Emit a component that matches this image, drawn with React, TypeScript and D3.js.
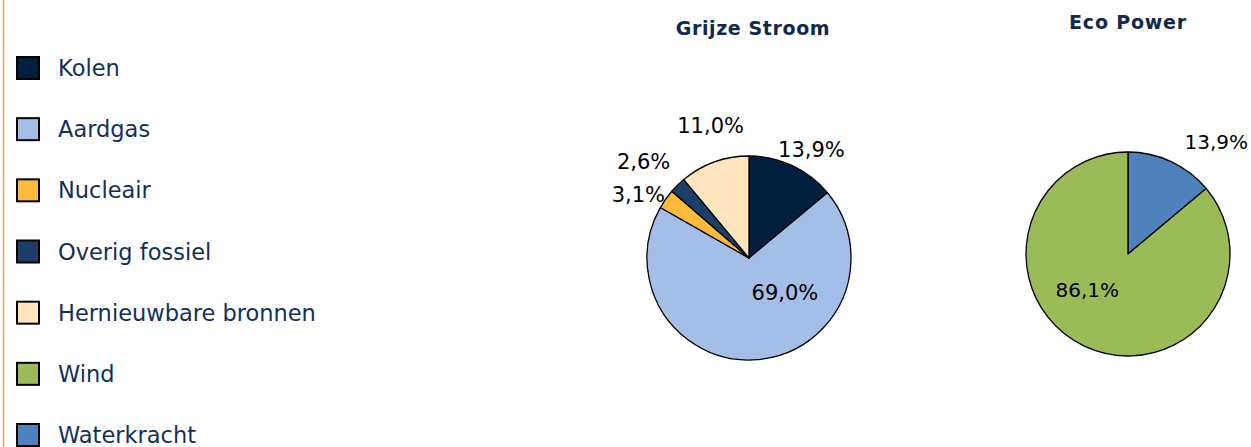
import React from "react";
import * as d3 from "d3";

const categories = ["Kolen", "Aardgas", "Nucleair", "Overig fossiel", "Hernieuwbare bronnen", "Wind", "Waterkracht"];
const colors = ["#01203f", "#a3bfe8", "#fdba3b", "#1b3f68", "#fde6bd", "#9bbb59", "#4f81bd"];

const grijzeCats = ["Kolen", "Aardgas", "Nucleair", "Overig fossiel", "Hernieuwbare bronnen"];
const grijzeValues = [13.9, 69.0, 3.1, 2.6, 11.0];
const ecoCats = ["Waterkracht", "Wind"];
const ecoValues = [13.9, 86.1];

// layout (not data): label offsets from computed centroid
const grijzeLabelLayout = [
  { r: 1.28, dx: 7, dy: 10 },
  { r: 0.55, dx: 31, dy: -21 },
  { r: 1.28, dx: -4, dy: 12 },
  { r: 1.28, dx: -14, dy: -3 },
  { r: 1.28, dx: 6, dy: -10 },
];
const ecoLabelLayout = [
  { r: 1.28, dx: 33, dy: 6 },
  { r: 0.55, dx: -17, dy: -15 },
];

const W = 1251;
const H = 447;
const R = 102;
const FONT = "'DejaVu Sans', Verdana, sans-serif";
const NAVY = "#12305a";

const fmt = (v: number) => v.toFixed(1).replace(".", ",") + "%";

function Pie({ cx, cy, cats, values, layout, fontSize }: any) {
  const pie = d3.pie<number>().sort(null).value((d) => d);
  const arcs = pie(values);
  const arc = d3.arc<d3.PieArcDatum<number>>().innerRadius(0).outerRadius(R);
  return (
    <g transform={`translate(${cx},${cy})`}>
      {arcs.map((a, i) => (
        <path
          key={i}
          d={arc(a) as string}
          fill={colors[categories.indexOf(cats[i])]}
          stroke="#000"
          strokeWidth={1.3}
          strokeLinejoin="round"
        />
      ))}
      {arcs.map((a, i) => {
        const lr = R * layout[i].r;
        const c = d3.arc<d3.PieArcDatum<number>>().innerRadius(lr).outerRadius(lr).centroid(a);
        return (
          <text
            key={"l" + i}
            x={c[0] + layout[i].dx}
            y={c[1] + layout[i].dy}
            dy="0.36em"
            textAnchor="middle"
            fontFamily={FONT}
            fontSize={fontSize}
            fill="#000"
          >
            {fmt(values[i])}
          </text>
        );
      })}
    </g>
  );
}

export default function App() {
  const legendY = d3.scalePoint<string>().domain(categories).range([68, 435]);
  return (
    <svg
      width={W}
      height={H}
      style={{ position: "absolute", left: 0, top: 0, background: "#fff" }}
    >
      <rect x={0} y={0} width={W} height={H} fill="#fff" />
      <line x1={3.5} x2={3.5} y1={0} y2={H} stroke="#f7a133" strokeWidth={1.5} />
      {categories.map((c, i) => (
        <g key={c}>
          <rect
            x={17}
            y={(legendY(c) as number) - 11}
            width={22}
            height={22}
            fill={colors[i]}
            stroke="#000"
            strokeWidth={2}
          />
          <text
            x={58}
            y={legendY(c) as number}
            dy="0.36em"
            fontFamily={FONT}
            fontSize={22.5}
            fill={NAVY}
          >
            {c}
          </text>
        </g>
      ))}
      <text
        x={753}
        y={35}
        textAnchor="middle"
        fontFamily={FONT}
        fontWeight="bold"
        fontSize={19}
        letterSpacing={0.6}
        fill="#0f2a4a"
      >
        Grijze Stroom
      </text>
      <text
        x={1128}
        y={29}
        textAnchor="middle"
        fontFamily={FONT}
        fontWeight="bold"
        fontSize={19}
        letterSpacing={0.8}
        fill="#0f2a4a"
      >
        Eco Power
      </text>
      <Pie cx={749} cy={258} cats={grijzeCats} values={grijzeValues} layout={grijzeLabelLayout} fontSize={21} />
      <Pie cx={1128} cy={254} cats={ecoCats} values={ecoValues} layout={ecoLabelLayout} fontSize={20} />
    </svg>
  );
}
